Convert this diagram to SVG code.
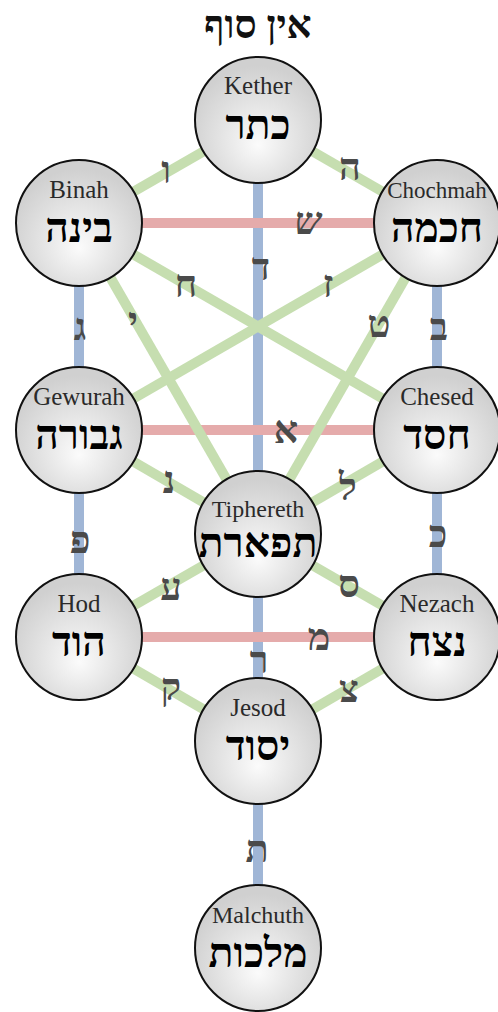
<svg xmlns="http://www.w3.org/2000/svg" width="498" height="1012" viewBox="0 0 498 1012">
<defs>
<radialGradient id="g" cx="50%" cy="62%" r="55%" fx="50%" fy="70%">
<stop offset="0" stop-color="#fbfbfb"/>
<stop offset="1" stop-color="#d0d0d0"/>
</radialGradient>
<style>
.b{stroke:#a0b6d6;stroke-width:10;fill:none}
.r{stroke:#e5abab;stroke-width:10;fill:none}
.gr{stroke:#c6deb0;stroke-width:10;fill:none}
.n{fill:url(#g);stroke:#111;stroke-width:2}
.en{font-family:"Liberation Serif",serif;font-size:25px;fill:#2a2a2a;text-anchor:middle}
.he{font-family:"Liberation Serif",serif;font-size:41px;font-weight:bold;fill:#000;text-anchor:middle}
.lt{font-family:"Liberation Serif",serif;font-size:38px;font-weight:bold;fill:#4a4a4a;text-anchor:middle}
</style>
</defs>
<rect width="498" height="1012" fill="#fff"/>
<text x="258" y="38" style="font-family:'Liberation Serif',serif;font-size:39px;font-weight:bold;text-anchor:middle;fill:#111">אין סוף</text>
<g id="connectors">
<line class="b" x1="258" y1="120" x2="258" y2="948"/>
<line class="b" x1="79" y1="223" x2="79" y2="637"/>
<line class="b" x1="437" y1="223" x2="437" y2="637"/>
<line class="r" x1="79" y1="223" x2="437" y2="223"/>
<line class="r" x1="79" y1="430" x2="437" y2="430"/>
<line class="r" x1="79" y1="637" x2="437" y2="637"/>
<line class="gr" x1="258" y1="120" x2="79" y2="223"/>
<line class="gr" x1="258" y1="120" x2="437" y2="223"/>
<line class="gr" x1="79" y1="223" x2="258" y2="534"/>
<line class="gr" x1="437" y1="223" x2="258" y2="534"/>
<line class="gr" x1="79" y1="223" x2="437" y2="430"/>
<line class="gr" x1="437" y1="223" x2="79" y2="430"/>
<line class="gr" x1="79" y1="430" x2="258" y2="534"/>
<line class="gr" x1="437" y1="430" x2="258" y2="534"/>
<line class="gr" x1="79" y1="637" x2="258" y2="534"/>
<line class="gr" x1="437" y1="637" x2="258" y2="534"/>
<line class="gr" x1="79" y1="637" x2="258" y2="741"/>
<line class="gr" x1="437" y1="637" x2="258" y2="741"/>
</g>
<g id="path-letters">
<text class="lt" x="166" y="183">ו</text>
<text class="lt" x="350" y="180">ה</text>
<text class="lt" x="308" y="234" font-style="italic">ש</text>
<text class="lt" x="261" y="280">ד</text>
<text class="lt" x="186" y="297">ח</text>
<text class="lt" x="328" y="297">ז</text>
<text class="lt" x="133" y="334">י</text>
<text class="lt" x="379" y="337">ט</text>
<text class="lt" x="80" y="340">ג</text>
<text class="lt" x="439" y="340">ב</text>
<text class="lt" x="286" y="443">א</text>
<text class="lt" x="169" y="493">נ</text>
<text class="lt" x="348" y="500">ל</text>
<text class="lt" x="438" y="547">כ</text>
<text class="lt" x="80" y="553">פ</text>
<text class="lt" x="171" y="600">ע</text>
<text class="lt" x="349" y="597">ס</text>
<text class="lt" x="319" y="650">מ</text>
<text class="lt" x="259" y="673">ר</text>
<text class="lt" x="171" y="700">ק</text>
<text class="lt" x="349" y="702">צ</text>
<text class="lt" x="257" y="862">ת</text>
</g>
<g id="kether"><circle class="n" cx="258" cy="120" r="63"/><text class="en" x="258" y="94">Kether</text><text class="he" x="258" y="139">כתר</text></g>
<g id="binah"><circle class="n" cx="79" cy="223" r="63"/><text class="en" x="79" y="198">Binah</text><text class="he" x="79" y="242">בינה</text></g>
<g id="chochmah"><circle class="n" cx="437" cy="223" r="63"/><text class="en" x="437" y="198" style="font-size:23px">Chochmah</text><text class="he" x="437" y="242">חכמה</text></g>
<g id="gewurah"><circle class="n" cx="79" cy="430" r="63"/><text class="en" x="79" y="405">Gewurah</text><text class="he" x="79" y="449">גבורה</text></g>
<g id="chesed"><circle class="n" cx="437" cy="430" r="63"/><text class="en" x="437" y="405">Chesed</text><text class="he" x="437" y="449">חסד</text></g>
<g id="tiphereth"><circle class="n" cx="258" cy="534" r="63"/><text class="en" x="258" y="517" style="font-size:24px">Tiphereth</text><text class="he" x="258" y="557">תפארת</text></g>
<g id="hod"><circle class="n" cx="79" cy="637" r="63"/><text class="en" x="79" y="612">Hod</text><text class="he" x="79" y="656">הוד</text></g>
<g id="nezach"><circle class="n" cx="437" cy="637" r="63"/><text class="en" x="437" y="612">Nezach</text><text class="he" x="437" y="656">נצח</text></g>
<g id="jesod"><circle class="n" cx="258" cy="741" r="63"/><text class="en" x="258" y="716">Jesod</text><text class="he" x="258" y="760">יסוד</text></g>
<g id="malchuth"><circle class="n" cx="258" cy="948" r="63"/><text class="en" x="258" y="923" style="font-size:24px">Malchuth</text><text class="he" x="258" y="967">מלכות</text></g>
</svg>
